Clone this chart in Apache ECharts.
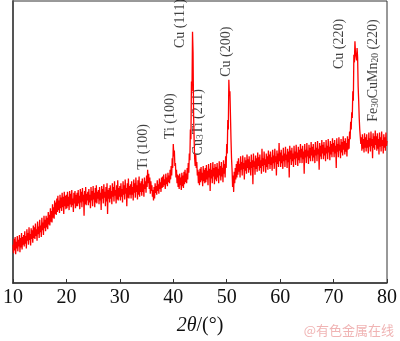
<!DOCTYPE html>
<html>
<head>
<meta charset="utf-8">
<script src="https://cdn.jsdelivr.net/npm/echarts@6/dist/echarts.min.js"></script>
<style>
  html, body { margin: 0; padding: 0; background: #fff; }
  #chart { width: 400px; height: 341px; }
</style>
</head>
<body>
<div id="chart"></div>
<script>
// XRD scan: 2θ from 10° to 80° in 0.1° steps
const angleStart = 10;
const angleStep = 0.1;

// Diffracted intensity (arb. units), one value per step, 20 values per 2°
const intensity = [
  40, 31, 46, 34, 48, 30, 43, 36, 49, 33, 45, 38, 50, 32, 47, 37, 52, 35, 48, 40,
  50, 38, 54, 41, 49, 36, 56, 44, 52, 40, 58, 45, 51, 39, 57, 46, 55, 42, 60, 47,
  58, 46, 62, 49, 56, 44, 64, 51, 59, 47, 66, 53, 60, 48, 68, 55, 63, 50, 70, 57,
  66, 54, 70, 58, 68, 56, 74, 61, 71, 60, 78, 64, 75, 63, 82, 68, 79, 67, 86, 72,
  84, 71, 88, 74, 91, 76, 86, 73, 92, 78, 89, 75, 94, 79, 90, 72, 95, 80, 91, 77,
  92, 78, 95, 80, 90, 76, 96, 82, 93, 79, 97, 81, 88, 74, 94, 83, 96, 78, 92, 80,
  94, 80, 97, 83, 91, 77, 98, 84, 95, 79, 99, 85, 92, 70, 96, 82, 100, 81, 93, 86,
  95, 81, 98, 84, 92, 78, 100, 86, 96, 80, 101, 87, 94, 79, 99, 84, 102, 83, 95, 88,
  97, 82, 100, 86, 94, 76, 101, 88, 98, 83, 103, 89, 95, 80, 100, 85, 104, 72, 97, 88,
  99, 84, 102, 88, 96, 82, 104, 90, 100, 85, 106, 91, 97, 83, 102, 87, 107, 86, 99, 90,
  101, 86, 104, 90, 98, 84, 106, 92, 102, 87, 108, 93, 99, 80, 104, 89, 109, 88, 101, 92,
  103, 88, 106, 92, 100, 86, 108, 94, 104, 89, 110, 95, 102, 87, 107, 92, 111, 90, 104, 95,
  106, 91, 109, 95, 103, 90, 110, 98, 106, 94, 112, 100, 118, 104, 114, 98, 110, 93, 106, 96,
  102, 90, 97, 86, 100, 88, 104, 94, 101, 92, 107, 96, 103, 93, 109, 98, 105, 95, 110, 99,
  111, 100, 113, 102, 108, 98, 114, 103, 110, 101, 115, 105, 112, 104, 118, 108, 122, 112, 130, 120,
  145, 132, 138, 122, 125, 110, 118, 104, 113, 100, 112, 98, 114, 102, 110, 97, 115, 101, 112, 99,
  116, 103, 118, 105, 114, 104, 120, 108, 125, 115, 135, 128, 160, 150, 210, 200, 262, 240, 175, 150,
  130, 122, 134, 120, 126, 112, 118, 104, 116, 102, 119, 105, 121, 107, 115, 101, 122, 106, 118, 104,
  120, 105, 123, 108, 117, 102, 124, 110, 119, 96, 125, 109, 118, 104, 126, 111, 120, 103, 124, 108,
  121, 106, 125, 110, 119, 104, 127, 112, 122, 107, 126, 111, 120, 105, 128, 114, 124, 110, 132, 120,
  145, 135, 170, 160, 212, 195, 200, 175, 150, 130, 118, 100, 112, 95, 116, 104, 120, 108, 124, 110,
  127, 113, 130, 116, 124, 110, 132, 118, 126, 112, 133, 119, 125, 108, 131, 117, 128, 114, 134, 120,
  129, 115, 132, 118, 126, 112, 134, 120, 128, 103, 135, 121, 127, 113, 133, 119, 130, 116, 136, 122,
  131, 117, 134, 120, 128, 114, 140, 122, 130, 116, 137, 123, 129, 115, 135, 121, 132, 118, 138, 124,
  134, 119, 137, 123, 131, 117, 139, 125, 133, 119, 140, 126, 132, 112, 138, 124, 135, 121, 146, 127,
  136, 121, 139, 125, 133, 119, 141, 127, 135, 121, 142, 128, 134, 120, 140, 126, 137, 110, 143, 129,
  138, 123, 141, 127, 135, 121, 143, 129, 137, 123, 144, 130, 136, 122, 142, 128, 139, 125, 145, 131,
  140, 125, 143, 129, 137, 114, 145, 131, 139, 125, 146, 132, 138, 124, 144, 130, 141, 127, 147, 133,
  142, 127, 145, 131, 139, 125, 147, 133, 141, 127, 148, 134, 140, 118, 146, 132, 143, 129, 149, 135,
  144, 129, 147, 133, 141, 127, 149, 135, 143, 129, 150, 136, 142, 128, 148, 134, 145, 131, 151, 137,
  146, 131, 149, 135, 143, 120, 151, 137, 145, 131, 152, 138, 144, 130, 150, 136, 147, 133, 153, 139,
  148, 134, 151, 137, 146, 132, 153, 139, 150, 140, 158, 150, 168, 160, 178, 172, 200, 190, 238, 230,
  252, 240, 236, 232, 245, 235, 205, 190, 172, 160, 158, 145, 152, 138, 155, 140, 150, 136, 156, 141,
  152, 137, 155, 141, 149, 135, 157, 142, 151, 137, 158, 143, 150, 130, 156, 141, 153, 139, 159, 144,
  153, 138, 156, 140, 150, 134, 157, 142, 152, 137, 158, 143, 149, 135, 155, 141, 152, 138, 157, 143,
  148
];

// Phase labels: text and the [2θ, intensity] point where each label starts
const peakNames = [
  '{n|Ti (100)}',
  '{n|Ti (100)}',
  '{n|Cu (111)}',
  '{n|Cu}{s|3}{n|Ti (211)}',
  '{n|Cu (200)}',
  '{n|Cu (220)}',
  '{n|Fe}{s|30}{n|CuMn}{s|20}{n| (220)}'
];
const peakLabelAt = [
  [34.4, 118],
  [39.45, 150],
  [41.35, 245],
  [44.75, 133],
  [50.0, 215],
  [71.0, 223],
  [77.5, 168]
];

const axisRange = { xMin: 10, xMax: 80, xStep: 10, yMin: 0, yMax: 294 };

const serif = '"Liberation Serif", "Times New Roman", serif';
const scan = intensity.map((v, i) => [+(angleStart + i * angleStep).toFixed(1), v]);

const chart = echarts.init(document.getElementById('chart'), null, { renderer: 'canvas' });
chart.setOption({
  animation: false,
  backgroundColor: '#fff',
  grid: {
    left: 6, right: 11, top: 1, bottom: 46,
    show: true, borderColor: '#333', borderWidth: 1, backgroundColor: 'transparent'
  },
  xAxis: {
    type: 'value',
    min: axisRange.xMin, max: axisRange.xMax, interval: axisRange.xStep,
    axisLine: { show: true, lineStyle: { color: '#333', width: 1.5 } },
    axisTick: { show: true, inside: true, length: 4, lineStyle: { color: '#333', width: 1 } },
    axisLabel: { color: '#111', fontFamily: serif, fontSize: 20, margin: 5 },
    splitLine: { show: false },
    name: '{i|2θ}{r|/(°)}',
    nameLocation: 'middle',
    nameGap: 33,
    nameTextStyle: {
      rich: {
        i: { fontFamily: serif, fontSize: 20, fontStyle: 'italic', color: '#111' },
        r: { fontFamily: serif, fontSize: 20, color: '#111' }
      }
    }
  },
  yAxis: {
    type: 'value',
    min: axisRange.yMin, max: axisRange.yMax,
    axisLine: { show: true, lineStyle: { color: '#555', width: 2 } },
    axisTick: { show: false },
    axisLabel: { show: false },
    splitLine: { show: false }
  },
  series: [
    {
      type: 'line',
      data: scan,
      showSymbol: false,
      symbol: 'none',
      lineStyle: { color: '#ff0000', width: 1.3 },
      silent: true
    },
    {
      type: 'scatter',
      data: peakLabelAt.map((p, i) => ({ value: p, name: peakNames[i] })),
      symbolSize: 0,
      silent: true,
      label: {
        show: true,
        position: [0, 0],
        rotate: 90,
        align: 'left',
        verticalAlign: 'middle',
        formatter: p => p.name,
        rich: {
          n: { fontFamily: serif, fontSize: 14, color: '#111' },
          s: { fontFamily: serif, fontSize: 9.5, color: '#111', verticalAlign: 'bottom' }
        }
      }
    }
  ],
  graphic: [
    {
      type: 'text',
      right: 6,
      bottom: 4,
      style: {
        text: '@有色金属在线',
        font: '13px "Noto Sans CJK SC", sans-serif',
        fill: '#f0b4b4'
      }
    }
  ]
});
</script>
</body>
</html>
